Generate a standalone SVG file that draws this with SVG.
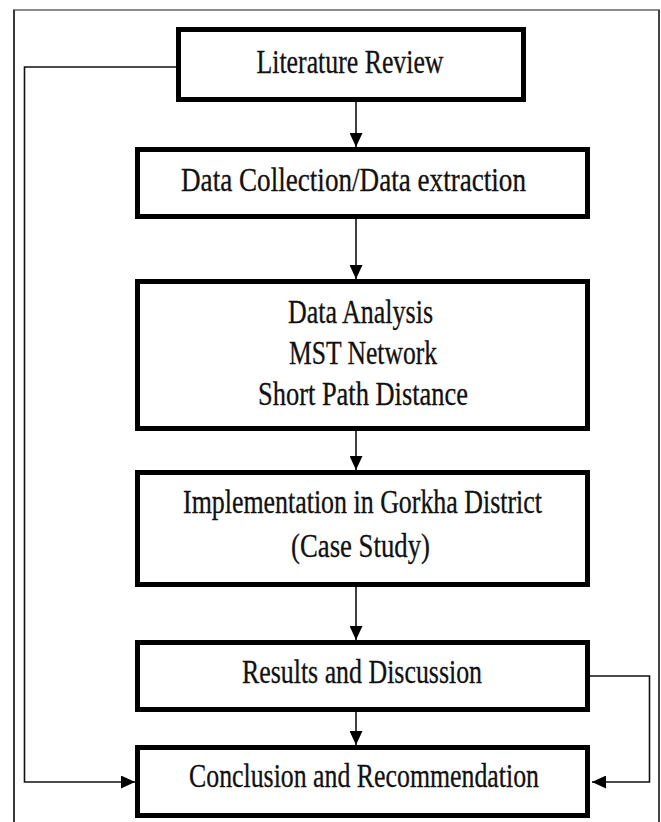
<svg xmlns="http://www.w3.org/2000/svg" width="661" height="822" viewBox="0 0 661 822">
<style>
.box{fill:#fff;stroke:#000;stroke-width:5}
.t{font-family:"Liberation Serif","Times New Roman",serif;font-size:33px;fill:#111;stroke:#111;stroke-width:0.3;text-anchor:middle}
.c{fill:none;stroke:#111;stroke-width:1.6}
</style>
<defs>
<marker id="ah" markerUnits="userSpaceOnUse" markerWidth="15" markerHeight="13" refX="14" refY="6.5" orient="auto">
<path d="M0,0 L14,6.5 L0,13 z" fill="#000"/>
</marker>
</defs>
<rect width="661" height="822" fill="#fff"/>
<g id="frame">
<line x1="13" y1="10" x2="660" y2="10" stroke="#8a8a8a" stroke-width="2"/>
<line x1="14" y1="10" x2="14" y2="822" stroke="#3a3a3a" stroke-width="2"/>
<line x1="659" y1="10" x2="659" y2="822" stroke="#444" stroke-width="2"/>
</g>
<g id="connectors">
<line class="c" x1="356" y1="102" x2="356" y2="147" marker-end="url(#ah)"/>
<line class="c" x1="356" y1="219" x2="356" y2="279" marker-end="url(#ah)"/>
<line class="c" x1="356" y1="431" x2="356" y2="470" marker-end="url(#ah)"/>
<line class="c" x1="356" y1="587" x2="356" y2="640" marker-end="url(#ah)"/>
<line class="c" x1="356" y1="712" x2="356" y2="745" marker-end="url(#ah)"/>
<polyline class="c" points="176,67 24.5,67 24.5,782 135,782" marker-end="url(#ah)"/>
<polyline class="c" points="590,676 649.5,676 649.5,782 592,782" marker-end="url(#ah)"/>
</g>
<g id="literature-review">
<rect class="box" x="178.5" y="29.5" width="345" height="70"/>
<text class="t" x="350" y="72.5" textLength="187" lengthAdjust="spacingAndGlyphs">Literature Review</text>
</g>
<g id="data-collection">
<rect class="box" x="137.5" y="149.5" width="450" height="67"/>
<text class="t" x="353.5" y="191" textLength="345" lengthAdjust="spacingAndGlyphs">Data Collection/Data extraction</text>
</g>
<g id="data-analysis">
<rect class="box" x="137.5" y="281.5" width="450" height="147"/>
<text class="t" x="360.5" y="323" textLength="145" lengthAdjust="spacingAndGlyphs">Data Analysis</text>
<text class="t" x="363" y="364" textLength="148" lengthAdjust="spacingAndGlyphs">MST Network</text>
<text class="t" x="363" y="405" textLength="210" lengthAdjust="spacingAndGlyphs">Short Path Distance</text>
</g>
<g id="implementation">
<rect class="box" x="137.5" y="472.5" width="450" height="112"/>
<text class="t" x="362.5" y="513" textLength="359" lengthAdjust="spacingAndGlyphs">Implementation in Gorkha District</text>
<text class="t" x="360.5" y="557" textLength="139" lengthAdjust="spacingAndGlyphs">(Case Study)</text>
</g>
<g id="results">
<rect class="box" x="137.5" y="642.5" width="450" height="67"/>
<text class="t" x="362" y="683" textLength="240" lengthAdjust="spacingAndGlyphs">Results and Discussion</text>
</g>
<g id="conclusion">
<rect class="box" x="137.5" y="747.5" width="450" height="68"/>
<text class="t" x="364" y="787" textLength="350" lengthAdjust="spacingAndGlyphs">Conclusion and Recommendation</text>
</g>
</svg>
